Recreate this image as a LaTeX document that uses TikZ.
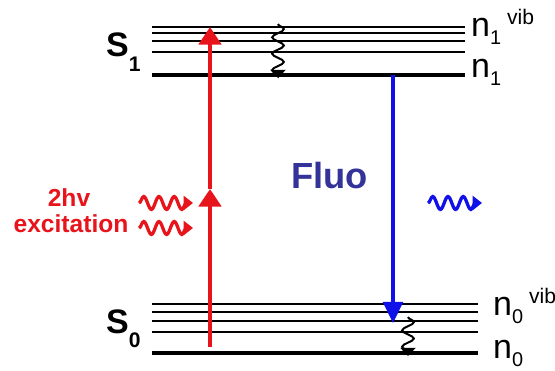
\documentclass[tikz,border=0pt]{standalone}
\usepackage{fontspec}
\setmainfont{Liberation Sans}
\usetikzlibrary{arrows.meta,decorations.pathmorphing}
\definecolor{exred}{HTML}{E8141B}
\definecolor{fluoblue}{HTML}{1010E8}
\definecolor{fluotext}{HTML}{333399}
\newcommand{\stidx}[1]{\raisebox{-12pt}{\fontsize{18}{18}\selectfont #1}}
\newcommand{\nlev}[2]{n\raisebox{-6pt}{\fontsize{17}{17}\selectfont #1}\hspace{5pt}\raisebox{11pt}{\fontsize{18}{18}\selectfont #2}}

\begin{document}
\begin{tikzpicture}[x=0.03cm,y=-0.03cm,
  level/.style={line width=3pt},
  sublevel/.style={line width=0.9pt},
  pump/.style={exred,line width=3.4pt,-{Triangle[length=15pt,width=19pt]}},
  emit/.style={fluoblue,line width=2.6pt,-{Triangle[length=18pt,width=17pt]}},
  relax/.style={line width=1.7pt,decorate,
    decoration={snake,amplitude=5pt,segment length=14pt,post length=2pt},
    -{Triangle[length=7pt,width=13pt]}},
  photon/.style={line width=2.8pt,decorate,
    decoration={snake,amplitude=5.5pt,segment length=13pt,post length=1pt},
    -{Triangle[length=8pt,width=12pt]}},
  state/.style={font=\fontsize{29}{29}\selectfont\bfseries,inner sep=0pt,anchor=base west},
  lbl/.style={font=\fontsize{29}{29}\selectfont,inner sep=0pt,anchor=base west},
  exlbl/.style={exred,font=\fontsize{21}{21}\selectfont\bfseries,inner sep=0pt}]
  \useasboundingbox (0,0) rectangle (555,371);

  % S1 and S0 manifolds
  \foreach \y in {27,33,41,52} \draw[sublevel] (152,\y) -- (465,\y);
  \draw[level] (152,75) -- (465,75);
  \foreach \y in {304,312,321,332} \draw[sublevel] (152,\y) -- (478,\y);
  \draw[level] (152,353) -- (478,353);

  \node[state] (s1) at (106,57) {S\stidx{1}};
  \node[state] (s0) at (106,333) {S\stidx{0}};
  \node[lbl] (n1v) at (471,37) {\nlev{1}{vib}};
  \node[lbl] (n1) at (471,78) {\nlev{1}{}};
  \node[lbl] (n0v) at (493,316) {\nlev{0}{vib}};
  \node[lbl] (n0) at (493,359) {\nlev{0}{}};

  % two-photon excitation
  \coordinate (g0) at (210,347);
  \coordinate (gm) at (210,189);
  \coordinate (g1) at (210,27);
  \draw[pump] (g0) -- (gm);
  \draw[pump] (gm) -- (g1);
  \node[exlbl,anchor=base] (hv) at (69,207) {2hv};
  \node[exlbl,anchor=base] (exc) at (71,233) {excitation};
  \coordinate (pa) at (139,203); \coordinate (pb) at (193,203);
  \coordinate (pc) at (139,228); \coordinate (pd) at (193,228);
  \draw[photon,exred] (pa) -- (pb);
  \draw[photon,exred] (pc) -- (pd);

  % relaxation
  \coordinate (r1) at (278,24); \coordinate (r2) at (278,78);
  \coordinate (r3) at (408,317); \coordinate (r4) at (408,356);
  \draw[relax] (r1) -- (r2);
  \draw[relax] (r3) -- (r4);

  % fluorescence
  \coordinate (e1) at (393,75);
  \coordinate (e0) at (393,323);
  \draw[emit] (e1) -- (e0);
  \node[fluotext,font=\fontsize{31}{31}\selectfont\bfseries,inner sep=0pt,anchor=base west] (fluo) at (291,189) {Fluo};
  \coordinate (fa) at (428,203); \coordinate (fb) at (482,203);
  \draw[photon,fluoblue] (fa) -- (fb);
\end{tikzpicture}
\end{document}
